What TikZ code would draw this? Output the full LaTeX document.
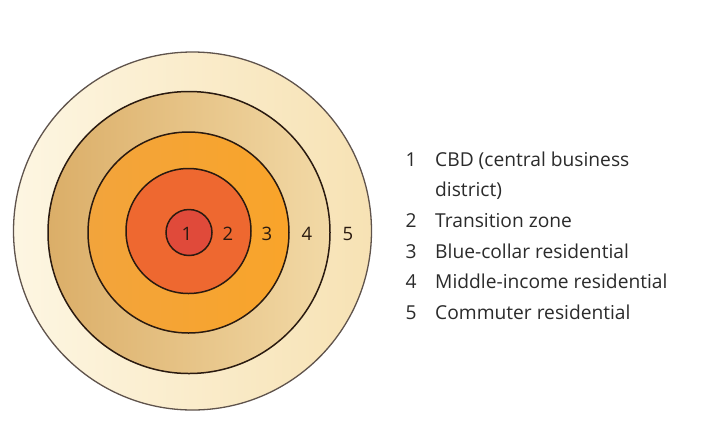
\documentclass[tikz,border=0pt]{standalone}
\usepackage{fontspec}
\setmainfont{Open Sans}
\definecolor{zfiveL}{HTML}{FDF6E2}
\definecolor{zfiveR}{HTML}{F7E2B4}
\definecolor{zfourL}{HTML}{DBAE68}
\definecolor{zfourR}{HTML}{F2D9A6}
\definecolor{zthreeL}{HTML}{F2A43C}
\definecolor{zthreeR}{HTML}{F9A42A}
\definecolor{ztwo}{HTML}{EE6830}
\definecolor{zone}{HTML}{E04A3A}
\definecolor{ring}{HTML}{2A1A10}
\definecolor{legtext}{HTML}{2B2B2B}
\tikzset{
  ringline/.style={draw=ring, line width=1.5pt},
  zlabel/.style={font=\fontsize{18.5}{18.5}\selectfont, text=ring, inner sep=0pt},
  legnum/.style={font=\fontsize{19.2}{19.2}\selectfont, text=legtext, anchor=base, inner sep=0pt},
  legitem/.style={font=\fontsize{19.2}{19.2}\selectfont, text=legtext, anchor=base west, inner sep=0pt}
}
\begin{document}
\begin{tikzpicture}[x=1pt,y=-1pt]
\useasboundingbox (0,0) rectangle (711,440);
\fill[white] (0,0) rectangle (711,440);
% zones
\shade[left color=zfiveL, right color=zfiveR] (192.5,231) circle (179);
\draw[draw=ring!75, line width=1.3pt] (192.5,231) circle (179);
\shade[left color=zfourL, right color=zfourR] (189,232.5) circle (141);
\draw[ringline] (189,232.5) circle (141);
\shade[left color=zthreeL, right color=zthreeR] (188.5,232.5) circle (100.5);
\draw[ringline] (188.5,232.5) circle (100.5);
\fill[ztwo] (188.5,231) circle (62.5);
\draw[ringline] (188.5,231) circle (62.5);
\fill[zone] (189,232.5) circle (23);
\draw[ringline] (189,232.5) circle (23);
% zone labels
\node[zlabel] (l1) at (187,234) {1};
\node[zlabel] (l2) at (228,234) {2};
\node[zlabel] (l3) at (267,234) {3};
\node[zlabel] (l4) at (307,234) {4};
\node[zlabel] (l5) at (348,234) {5};
% legend
\node[legnum] (n1) at (411,166.5) {1};
\node[legitem] (t1) at (435,166.5) {CBD (central business};
\node[legitem] (t1b) at (435,196) {district)};
\node[legnum] (n2) at (411,227) {2};
\node[legitem] (t2) at (435,227) {Transition zone};
\node[legnum] (n3) at (411,258) {3};
\node[legitem] (t3) at (435,258) {Blue-collar residential};
\node[legnum] (n4) at (411,288.5) {4};
\node[legitem] (t4) at (435,288.5) {Middle-income residential};
\node[legnum] (n5) at (411,319.5) {5};
\node[legitem] (t5) at (435,319.5) {Commuter residential};
\end{tikzpicture}
\end{document}
